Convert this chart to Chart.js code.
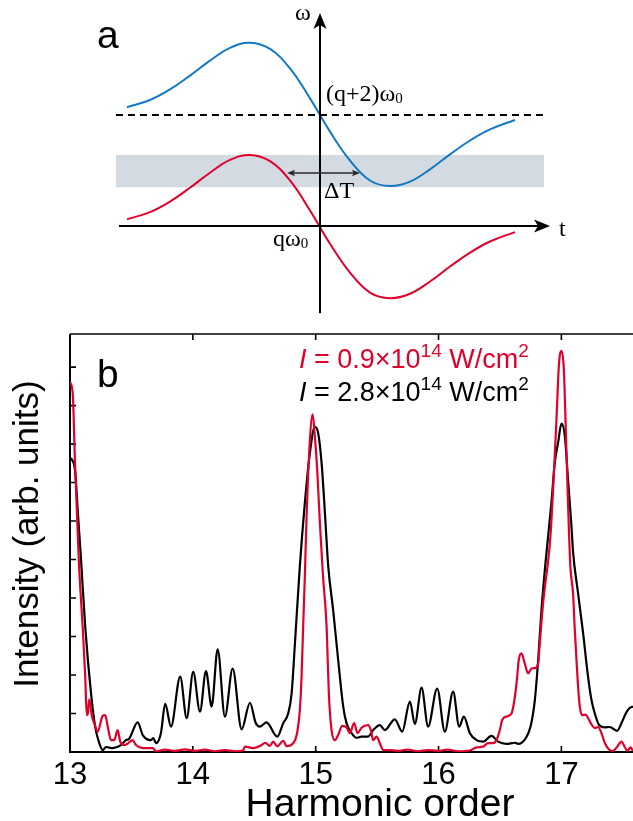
<!DOCTYPE html>
<html>
<head>
<meta charset="utf-8">
<title>Harmonic spectra</title>
<script src="https://cdn.jsdelivr.net/npm/chart.js@4/dist/chart.umd.min.js"></script>
<style>
  html, body { margin: 0; padding: 0; background: #fff; }
  #wrap { position: relative; width: 633px; height: 821px; overflow: hidden; }
  #panelA { position: absolute; left: 0; top: 0; }
  #panelB { position: absolute; left: 0; top: 322px; }
</style>
</head>
<body>
<div id="wrap">
  <canvas id="panelA" width="633" height="330"></canvas>
  <canvas id="panelB" width="633" height="499"></canvas>
</div>
<script>
// ---------- panel a: schematic chirped harmonics (t, omega in units of 2*omega0 steps above q) ----------
const SWEEP_T = [-1.93, -1.7, -1.5, -1.3, -1.1, -0.9, -0.7, -0.5, -0.3, -0.1, 0.1, 0.3, 0.5, 0.7, 0.9, 1.1, 1.3, 1.5, 1.7, 1.95];
const UPPER_W = [2.14, 2.27, 2.46, 2.71, 2.98, 3.21, 3.30, 3.19, 2.84, 2.30, 1.70, 1.18, 0.82, 0.72, 0.80, 1.02, 1.29, 1.54, 1.74, 1.91];
const LOWER_W = [0.12, 0.25, 0.44, 0.69, 0.96, 1.19, 1.28, 1.17, 0.82, 0.28, -0.32, -0.84, -1.20, -1.30, -1.22, -1.00, -0.73, -0.48, -0.28, -0.11];
const LEVEL_T = [-2.04, 2.28];      // dashed (q+2)ω0 level
const LEVEL_W = 2;
const BAND_T = [-2.04, 2.24];       // shaded spectral window
const BAND_W = [0.70, 1.28];
const T_AXIS = [-2.01, 2.30];
const W_AXIS = [-1.57, 3.84];
const DELTA_T = [-0.33, 0.40];      // ΔT arrow span
const DELTA_W = 0.955;

// ---------- panel b: measured spectra ----------
const X_TICKS = [13, 14, 15, 16, 17];
const Y_TICKS = [0, 1, 2, 3, 4, 5, 6, 7, 8, 9, 10];

const ORDER_HIGH = [13.008, 13.041, 13.065, 13.090, 13.124, 13.171, 13.206, 13.238, 13.266, 13.293,
  13.347, 13.415, 13.456, 13.480, 13.551, 13.592, 13.659, 13.678, 13.700, 13.740,
  13.775, 13.822, 13.897, 13.950, 14.003, 14.058, 14.107, 14.153, 14.202, 14.261,
  14.324, 14.397, 14.465, 14.511, 14.546, 14.600, 14.687, 14.736, 14.776, 14.804,
  14.831, 14.871, 14.912, 14.953, 14.993, 15.020, 15.048, 15.075, 15.102, 15.142,
  15.183, 15.224, 15.251, 15.292, 15.333, 15.373, 15.427, 15.468, 15.522, 15.563,
  15.644, 15.704, 15.767, 15.807, 15.862, 15.915, 15.989, 16.051, 16.119, 16.168,
  16.206, 16.255, 16.309, 16.363, 16.431, 16.485, 16.553, 16.621, 16.648, 16.710,
  16.749, 16.784, 16.811, 16.838, 16.873, 16.919, 16.946, 16.973, 17.001, 17.028,
  17.054, 17.082, 17.095, 17.136, 17.177, 17.217, 17.245, 17.272, 17.307, 17.353,
  17.394, 17.453, 17.489, 17.524, 17.551, 17.583];
const INTENSITY_HIGH = [7.64, 7.32, 6.16, 4.99, 3.25, 1.53, 0.64, 0.23, 0.05, 0.13,
  0.10, 0.18, 0.31, 0.34, 0.77, 0.44, 0.31, 0.36, 0.23, 0.49,
  1.25, 0.66, 1.96, 0.88, 2.08, 1.05, 2.10, 1.18, 2.67, 0.92,
  2.17, 0.59, 1.28, 0.76, 0.66, 0.77, 0.40, 0.75, 1.00, 1.52,
  2.82, 4.83, 6.48, 7.77, 8.45, 8.29, 7.51, 6.22, 4.83, 3.69,
  2.39, 1.18, 0.75, 0.49, 0.37, 0.40, 0.40, 0.57, 0.70, 0.57,
  0.85, 0.53, 1.31, 0.73, 1.67, 0.66, 1.65, 0.53, 1.57, 0.66,
  0.92, 0.49, 0.31, 0.27, 0.42, 0.27, 0.21, 0.24, 0.21, 0.36,
  0.66, 1.35, 2.39, 3.69, 4.99, 6.48, 7.51, 8.03, 8.53, 8.21,
  7.08, 5.87, 5.20, 4.12, 3.08, 1.96, 1.35, 1.00, 0.70, 0.64,
  0.65, 0.55, 0.75, 1.00, 1.13, 1.18];

const ORDER_LOW = [13.000, 13.022, 13.041, 13.072, 13.103, 13.124, 13.136, 13.144, 13.157, 13.179,
  13.198, 13.225, 13.266, 13.287, 13.307, 13.334, 13.360, 13.388, 13.409, 13.442,
  13.469, 13.510, 13.537, 13.592, 13.632, 13.673, 13.700, 13.773, 13.854, 13.936,
  14.017, 14.098, 14.180, 14.261, 14.343, 14.408, 14.424, 14.491, 14.560, 14.587,
  14.627, 14.654, 14.687, 14.736, 14.763, 14.817, 14.845, 14.871, 14.885, 14.898,
  14.912, 14.926, 14.947, 14.975, 14.993, 15.012, 15.034, 15.059, 15.089, 15.107,
  15.129, 15.156, 15.183, 15.216, 15.251, 15.278, 15.313, 15.341, 15.373, 15.427,
  15.449, 15.468, 15.496, 15.522, 15.549, 15.590, 15.669, 15.750, 15.832, 15.913,
  15.994, 16.076, 16.157, 16.255, 16.309, 16.363, 16.404, 16.444, 16.472, 16.499,
  16.518, 16.553, 16.594, 16.613, 16.635, 16.653, 16.675, 16.702, 16.729, 16.757,
  16.784, 16.811, 16.824, 16.851, 16.873, 16.890, 16.911, 16.938, 16.960, 16.981,
  17.001, 17.020, 17.036, 17.054, 17.073, 17.095, 17.108, 17.123, 17.136, 17.150,
  17.168, 17.196, 17.223, 17.245, 17.272, 17.299, 17.326, 17.353, 17.394, 17.421,
  17.453, 17.489, 17.516, 17.538, 17.562, 17.583];
const INTENSITY_LOW = [9.62, 9.32, 7.50, 4.95, 3.25, 1.96, 0.96, 0.99, 1.37, 0.92,
  0.75, 0.53, 0.94, 0.96, 0.66, 0.31, 0.31, 0.57, 0.27, 0.18,
  0.22, 0.31, 0.18, 0.10, 0.10, 0.10, 0.02, 0.06, 0.03, 0.07,
  0.03, 0.06, 0.02, 0.05, 0.02, 0.04, 0.14, 0.10, 0.18, 0.24,
  0.16, 0.27, 0.15, 0.29, 0.15, 0.23, 0.44, 1.09, 1.96, 3.25,
  4.60, 6.13, 7.77, 8.77, 8.21, 7.35, 5.96, 4.60, 3.25, 1.52,
  0.57, 0.31, 0.44, 0.68, 0.64, 0.49, 0.75, 0.49, 0.63, 0.70,
  0.57, 0.31, 0.40, 0.23, 0.05, 0.05, 0.03, 0.06, 0.02, 0.05,
  0.03, 0.06, 0.02, 0.04, 0.12, 0.14, 0.23, 0.23, 0.31, 0.57,
  0.83, 0.92, 1.00, 1.26, 1.78, 2.39, 2.56, 2.30, 2.04, 2.17,
  2.18, 2.30, 2.82, 3.86, 4.47, 4.90, 5.61, 7.17, 8.64, 10.11,
  10.42, 9.94, 8.38, 6.48, 4.83, 4.12, 3.25, 2.39, 1.70, 1.18,
  0.96, 0.97, 0.85, 0.72, 0.62, 0.65, 0.49, 0.24, 0.05, 0.03,
  0.13, 0.27, 0.13, 0.03, 0.12, 0.03];

const RED = '#e0002b';
const BLUE = '#1479c4';
const SANS = "'Liberation Sans', Arial, Helvetica, sans-serif";
const SERIF = "'Liberation Serif', 'Times New Roman', serif";

Chart.defaults.font.family = SANS;
Chart.defaults.color = '#000';

const zip = (xs, ys) => xs.map((x, i) => ({ x: x, y: ys[i] }));

function arrowHead(ctx, tx, ty, ang, len, half, notch) {
  ctx.save();
  ctx.translate(tx, ty);
  ctx.rotate(ang);
  ctx.beginPath();
  ctx.moveTo(0, 0);
  ctx.lineTo(-len, -half);
  ctx.lineTo(-len + notch, 0);
  ctx.lineTo(-len, half);
  ctx.closePath();
  ctx.fill();
  ctx.restore();
}

function richText(ctx, x, y, parts, color) {
  ctx.fillStyle = color;
  ctx.textAlign = 'left';
  ctx.textBaseline = 'alphabetic';
  for (const p of parts) {
    ctx.font = p.font;
    ctx.fillText(p.text, x, y + (p.dy || 0));
    x += ctx.measureText(p.text).width;
  }
}

// axes, arrows and labels of the schematic
const schematicDecor = {
  id: 'schematicDecor',
  afterDatasetsDraw(chart) {
    const { ctx } = chart;
    const X = v => chart.scales.x.getPixelForValue(v);
    const Y = v => chart.scales.y.getPixelForValue(v);
    ctx.save();
    ctx.strokeStyle = '#000';
    ctx.fillStyle = '#000';
    ctx.lineWidth = 2;
    // t axis
    ctx.beginPath();
    ctx.moveTo(X(T_AXIS[0]), Y(0));
    ctx.lineTo(X(T_AXIS[1]) - 10, Y(0));
    ctx.stroke();
    arrowHead(ctx, X(T_AXIS[1]), Y(0), 0, 16, 6.5, 4);
    // omega axis
    ctx.beginPath();
    ctx.moveTo(X(0), Y(W_AXIS[0]));
    ctx.lineTo(X(0), Y(W_AXIS[1]) + 10);
    ctx.stroke();
    arrowHead(ctx, X(0), Y(W_AXIS[1]), -Math.PI / 2, 16, 6.5, 4);
    // ΔT double arrow
    ctx.strokeStyle = '#2a2a2a';
    ctx.fillStyle = '#2a2a2a';
    ctx.lineWidth = 1.3;
    const x0 = X(DELTA_T[0]), x1 = X(DELTA_T[1]), yd = Y(DELTA_W);
    ctx.beginPath();
    ctx.moveTo(x0 + 4, yd);
    ctx.lineTo(x1 - 4, yd);
    ctx.stroke();
    arrowHead(ctx, x0, yd, Math.PI, 8, 3.2, 1.5);
    arrowHead(ctx, x1, yd, 0, 8, 3.2, 1.5);
    // labels
    ctx.fillStyle = '#000';
    ctx.textAlign = 'left';
    ctx.textBaseline = 'alphabetic';
    ctx.font = '39px ' + SANS;
    ctx.fillText('a', 97, 48);
    richText(ctx, 295, 20, [{ text: 'ω', font: '24px ' + SERIF }], '#000');
    richText(ctx, 326, 101, [
      { text: '(q+2)ω', font: '24px ' + SERIF },
      { text: '0', font: '15px ' + SERIF, dy: 2 }
    ], '#000');
    richText(ctx, 273, 246, [
      { text: 'qω', font: '24px ' + SERIF },
      { text: '0', font: '15px ' + SERIF, dy: 2 }
    ], '#000');
    richText(ctx, 324, 198, [{ text: 'ΔT', font: '24px ' + SERIF }], '#000');
    richText(ctx, 559, 236, [{ text: 't', font: '24px ' + SERIF }], '#000');
    ctx.restore();
  }
};

new Chart(document.getElementById('panelA'), {
  type: 'line',
  data: {
    datasets: [
      { data: zip(SWEEP_T, UPPER_W), borderColor: BLUE, borderWidth: 2, pointRadius: 0, tension: 0.4, fill: false, order: 1 },
      { data: zip(SWEEP_T, LOWER_W), borderColor: RED, borderWidth: 2, pointRadius: 0, tension: 0.4, fill: false, order: 1 },
      { data: zip(LEVEL_T, [LEVEL_W, LEVEL_W]), borderColor: '#000', borderWidth: 1.8, borderDash: [7, 5], pointRadius: 0, fill: false, order: 2 },
      { data: zip(BAND_T, [BAND_W[1], BAND_W[1]]), borderWidth: 0, borderColor: 'rgba(0,0,0,0)', backgroundColor: '#d3dae1', pointRadius: 0, fill: '+1', order: 3 },
      { data: zip(BAND_T, [BAND_W[0], BAND_W[0]]), borderWidth: 0, borderColor: 'rgba(0,0,0,0)', pointRadius: 0, fill: false, order: 4 }
    ]
  },
  options: {
    responsive: false,
    animation: false,
    events: [],
    layout: { padding: 0 },
    plugins: { legend: { display: false }, tooltip: { enabled: false } },
    scales: {
      x: { type: 'linear', min: -3.2, max: 3.13, display: false },
      y: { type: 'linear', min: -1.874, max: 4.072, display: false }
    }
  },
  plugins: [schematicDecor]
});

// frame with inward ticks, legend text and axis titles of the spectra
const spectraFrame = {
  id: 'spectraFrame',
  beforeDatasetsDraw(chart) {
    const { ctx, chartArea: a } = chart;
    const xs = chart.scales.x, ys = chart.scales.y;
    ctx.save();
    ctx.strokeStyle = '#000';
    ctx.lineWidth = 2;
    ctx.beginPath();
    ctx.moveTo(a.left, a.top);
    ctx.lineTo(a.left, a.bottom);
    ctx.lineTo(a.right + 2, a.bottom);
    ctx.stroke();
    ctx.lineWidth = 1.5;
    ctx.beginPath();
    ctx.moveTo(a.left, a.top);
    ctx.lineTo(a.right + 2, a.top);
    ctx.stroke();
    ctx.lineWidth = 1.6;
    ctx.beginPath();
    for (const t of xs.ticks) {
      const px = xs.getPixelForValue(t.value);
      ctx.moveTo(px, a.bottom);
      ctx.lineTo(px, a.bottom - 6);
      ctx.moveTo(px, a.top);
      ctx.lineTo(px, a.top + 6);
    }
    for (const t of ys.ticks) {
      const py = ys.getPixelForValue(t.value);
      ctx.moveTo(a.left, py);
      ctx.lineTo(a.left + 6, py);
    }
    ctx.stroke();
    ctx.restore();
  },
  afterDatasetsDraw(chart) {
    const { ctx } = chart;
    const top = 322; // canvas offset on the page
    ctx.save();
    ctx.fillStyle = '#000';
    ctx.textAlign = 'left';
    ctx.textBaseline = 'alphabetic';
    ctx.font = '39px ' + SANS;
    ctx.fillText('b', 97, 387 - top);
    const legendRows = [
      { color: RED, value: '0.9', base: 368 },
      { color: '#000', value: '2.8', base: 401 }
    ];
    for (const r of legendRows) {
      richText(ctx, 299, r.base - top, [
        { text: 'I', font: 'italic 27px ' + SANS },
        { text: ' = ' + r.value + '×10', font: '27px ' + SANS },
        { text: '14', font: '19px ' + SANS, dy: -11 },
        { text: ' W/cm', font: '27px ' + SANS },
        { text: '2', font: '19px ' + SANS, dy: -11 }
      ], r.color);
    }
    ctx.fillStyle = '#000';
    ctx.textAlign = 'center';
    ctx.font = '39px ' + SANS;
    ctx.fillText('Harmonic order', 380, 816 - top);
    ctx.translate(38, 534 - top);
    ctx.rotate(-Math.PI / 2);
    ctx.font = '35px ' + SANS;
    ctx.fillText('Intensity (arb. units)', 0, 0);
    ctx.restore();
  }
};

new Chart(document.getElementById('panelB'), {
  type: 'line',
  data: {
    datasets: [
      { label: 'I = 0.9×10^14 W/cm^2', data: zip(ORDER_LOW, INTENSITY_LOW), borderColor: RED, borderWidth: 2.2, pointRadius: 0, cubicInterpolationMode: 'monotone', fill: false, order: 1 },
      { label: 'I = 2.8×10^14 W/cm^2', data: zip(ORDER_HIGH, INTENSITY_HIGH), borderColor: '#000', borderWidth: 2.2, pointRadius: 0, cubicInterpolationMode: 'monotone', fill: false, order: 2 }
    ]
  },
  options: {
    responsive: false,
    animation: false,
    events: [],
    layout: { padding: { top: 12, left: 0, right: 0, bottom: 0 } },
    plugins: { legend: { display: false }, tooltip: { enabled: false } },
    scales: {
      x: {
        type: 'linear', min: 13, max: 17.583,
        afterBuildTicks: s => { s.ticks = X_TICKS.map(v => ({ value: v })); },
        afterFit: s => { s.height = 69; },
        grid: { display: false, drawTicks: false },
        border: { display: false },
        ticks: { font: { size: 31 }, color: '#000', padding: 5, maxRotation: 0, autoSkip: false }
      },
      y: {
        type: 'linear', min: 0, max: 10.86,
        afterBuildTicks: s => { s.ticks = Y_TICKS.map(v => ({ value: v })); },
        afterFit: s => { s.width = 70; },
        grid: { display: false, drawTicks: false },
        border: { display: false },
        ticks: { display: false }
      }
    }
  },
  plugins: [spectraFrame]
});
</script>
</body>
</html>
